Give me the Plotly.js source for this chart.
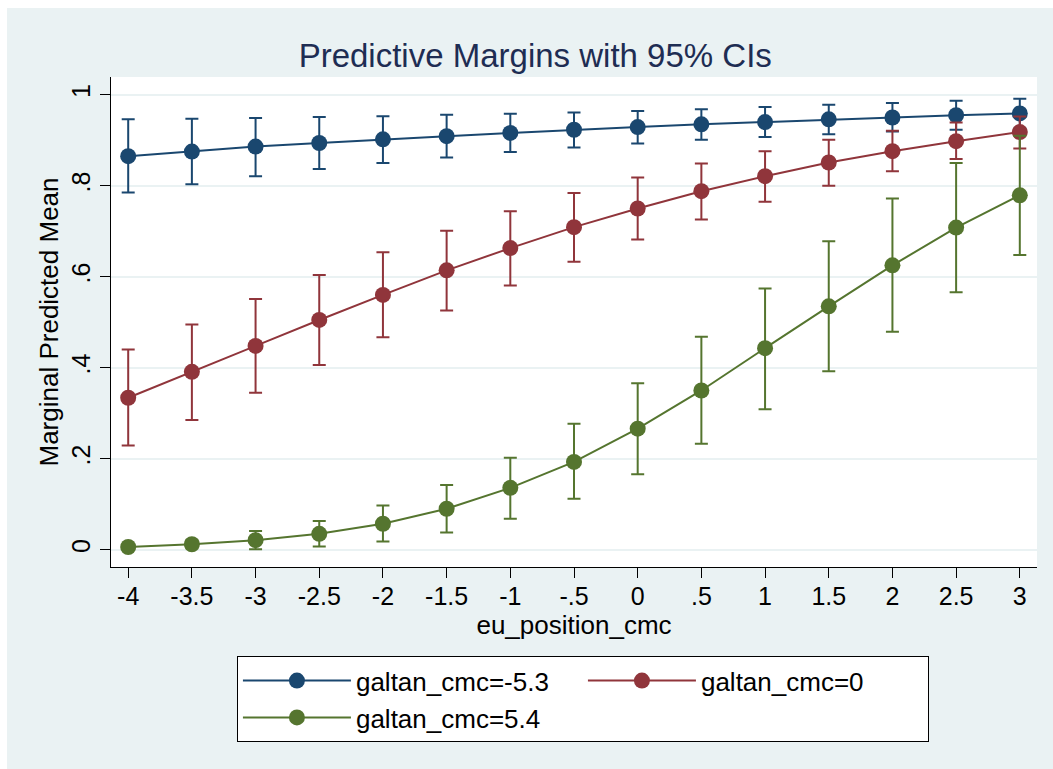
<!DOCTYPE html>
<html>
<head>
<meta charset="utf-8">
<script src="https://cdn.plot.ly/plotly-3.0.1.min.js"></script>
<style>
  html, body { margin: 0; padding: 0; background: #ffffff; width: 1053px; height: 769px; overflow: hidden; }
  #chart { position: absolute; left: 7px; top: 8px; width: 1046px; height: 761px; }
</style>
</head>
<body>
<div id="chart"></div>
<script>
// x categories (eu_position_cmc)
const xValues = [-4, -3.5, -3, -2.5, -2, -1.5, -1, -0.5, 0, 0.5, 1, 1.5, 2, 2.5, 3];
const xTickLabels = ["-4", "-3.5", "-3", "-2.5", "-2", "-1.5", "-1", "-.5", "0", ".5", "1", "1.5", "2", "2.5", "3"];
const yTickValues = [0, 0.2, 0.4, 0.6, 0.8, 1];
const yTickLabels = ["0", ".2", ".4", ".6", ".8", "1"];

// galtan_cmc = -5.3
const blueMean = [0.865, 0.875, 0.886, 0.894, 0.902, 0.909, 0.916, 0.923, 0.929, 0.935, 0.940, 0.946, 0.950, 0.955, 0.959];
const blueLow  = [0.785, 0.803, 0.821, 0.837, 0.850, 0.862, 0.874, 0.884, 0.893, 0.901, 0.907, 0.913, 0.919, 0.923, 0.926];
const blueHigh = [0.946, 0.947, 0.949, 0.951, 0.953, 0.956, 0.958, 0.961, 0.964, 0.968, 0.973, 0.978, 0.982, 0.987, 0.991];

// galtan_cmc = 0
const redMean = [0.334, 0.391, 0.448, 0.505, 0.560, 0.614, 0.663, 0.709, 0.750, 0.788, 0.821, 0.851, 0.876, 0.898, 0.918];
const redLow  = [0.229, 0.285, 0.345, 0.406, 0.467, 0.526, 0.581, 0.633, 0.682, 0.726, 0.765, 0.800, 0.832, 0.859, 0.882];
const redHigh = [0.440, 0.495, 0.551, 0.604, 0.654, 0.701, 0.744, 0.784, 0.818, 0.849, 0.876, 0.901, 0.921, 0.939, 0.952];

// galtan_cmc = 5.4
const greenMean = [0.006, 0.012, 0.021, 0.035, 0.057, 0.090, 0.136, 0.193, 0.266, 0.350, 0.443, 0.535, 0.625, 0.708, 0.779];
const greenLow  = [0.001, 0.003, 0.001, 0.007, 0.018, 0.038, 0.068, 0.112, 0.166, 0.233, 0.309, 0.392, 0.479, 0.566, 0.648];
const greenHigh = [0.011, 0.021, 0.041, 0.063, 0.097, 0.142, 0.202, 0.277, 0.366, 0.468, 0.574, 0.678, 0.772, 0.850, 0.910];

const seriesNames = ["galtan_cmc=-5.3", "galtan_cmc=0", "galtan_cmc=5.4"];
const seriesColors = ["#1a476f", "#90353b", "#55752f"];

function makeTrace(name, color, mean, low, high) {
  return {
    type: "scatter",
    mode: "lines+markers",
    name: name,
    x: xValues,
    y: mean,
    line: { color: color, width: 2 },
    marker: { color: color, size: 16, line: { width: 0 } },
    error_y: {
      type: "data",
      symmetric: false,
      array: high.map((h, i) => h - mean[i]),
      arrayminus: low.map((l, i) => mean[i] - l),
      color: color,
      thickness: 2,
      width: 6.5
    }
  };
}

const traces = [
  makeTrace(seriesNames[0], seriesColors[0], blueMean, blueLow, blueHigh),
  makeTrace(seriesNames[1], seriesColors[1], redMean, redLow, redHigh),
  makeTrace(seriesNames[2], seriesColors[2], greenMean, greenLow, greenHigh)
];

const fontFamily = "Liberation Sans, Arial, Helvetica, sans-serif";

const layout = {
  width: 1046,
  height: 761,
  paper_bgcolor: "#eaf2f3",
  plot_bgcolor: "#ffffff",
  margin: { l: 104, r: 16, t: 69, b: 202 },
  font: { family: fontFamily, color: "#000000", size: 25 },
  title: {
    text: "Predictive Margins with 95% CIs",
    font: { family: fontFamily, size: 33, color: "#1e2d53" },
    x: 0.505, xref: "container", xanchor: "center",
    y: 0.938, yref: "container", yanchor: "middle"
  },
  xaxis: {
    range: [-4.135, 3.135],
    tickvals: xValues,
    ticktext: xTickLabels,
    tickfont: { size: 25, color: "#000000" },
    ticks: "outside", ticklen: 10, tickwidth: 1, tickcolor: "#000000",
    ticklabelstandoff: -3,
    showgrid: false, zeroline: false,
    showline: true, linecolor: "#000000", linewidth: 1,
    title: { text: "eu_position_cmc", font: { size: 26, color: "#000000" }, standoff: 0 },
    fixedrange: true
  },
  yaxis: {
    range: [-0.038, 1.039],
    tickvals: yTickValues,
    ticktext: yTickLabels,
    tickangle: -90,
    tickfont: { size: 25, color: "#000000" },
    ticks: "outside", ticklen: 10, tickwidth: 1, tickcolor: "#000000",
    showgrid: true, gridcolor: "#eaf2f3", gridwidth: 2,
    zeroline: false,
    showline: true, linecolor: "#000000", linewidth: 1,
    title: { text: "Marginal Predicted Mean", font: { size: 26, color: "#000000" }, standoff: 0 },
    fixedrange: true
  },
  showlegend: true,
  legend: {
    orientation: "h",
    x: 0.136, xanchor: "left",
    y: -0.182, yanchor: "top",
    bgcolor: "#ffffff",
    bordercolor: "#000000",
    borderwidth: 1,
    font: { size: 26, color: "#000000" },
    itemwidth: 108,
    entrywidth: 222,
    entrywidthmode: "pixels",
    traceorder: "normal"
  }
};

Plotly.newPlot("chart", traces, layout, { displayModeBar: false, staticPlot: true });
</script>
</body>
</html>
